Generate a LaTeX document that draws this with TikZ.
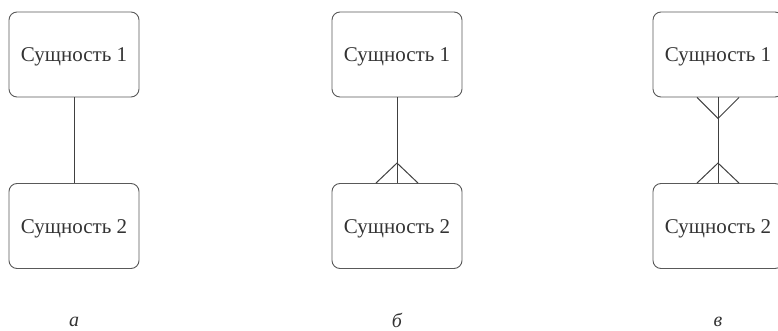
\documentclass[tikz,border=0pt]{standalone}
\usepackage{fontspec}
\setmainfont{Liberation Serif}
\usetikzlibrary{calc}

\tikzset{
  entity/.style={draw=black!65, line width=0.9pt, rounded corners=8pt,
    minimum width=130pt, minimum height=85pt, inner sep=0pt,
    text height=14pt, text depth=0pt,
    font=\fontsize{21}{25}\selectfont, text=black!80},
  link/.style={draw=black!75, line width=1pt},
  caption/.style={font=\fontsize{20}{24}\selectfont\itshape, text=black!80,
    inner sep=0pt}
}

\begin{document}
\begin{tikzpicture}[x=1pt, y=-1pt]
  \useasboundingbox (0,0) rectangle (778,331);
  % (a) one to one
  \node[entity] (a1) at (74,54.5) {Сущность 1};
  \node[entity] (a2) at (74,226) {Сущность 2};
  \draw[link] (a1) -- (a2);
  \node[caption] (capa) at (74,321.5) {а};
  % (b) one to many
  \node[entity] (b1) at (397,54.5) {Сущность 1};
  \node[entity] (b2) at (397,226) {Сущность 2};
  \coordinate (bapex) at ($(b2.north)+(0,-20)$);
  \draw[link] (b1) -- (b2);
  \draw[link] ($(b2.north)+(-21,0)$) -- (bapex) -- ($(b2.north)+(21,0)$);
  \node[caption] (capb) at (397,320) {б};
  % (c) many to many
  \node[entity] (c1) at (718,54.5) {Сущность 1};
  \node[entity] (c2) at (718,226) {Сущность 2};
  \coordinate (ctop) at ($(c1.south)+(0,21)$);
  \coordinate (cbot) at ($(c2.north)+(0,-20)$);
  \draw[link] (c1) -- (c2);
  \draw[link] ($(c1.south)+(-21,0)$) -- (ctop) -- ($(c1.south)+(21,0)$);
  \draw[link] ($(c2.north)+(-21,0)$) -- (cbot) -- ($(c2.north)+(21,0)$);
  \node[caption] (capc) at (718,321.5) {в};
\end{tikzpicture}
\end{document}
